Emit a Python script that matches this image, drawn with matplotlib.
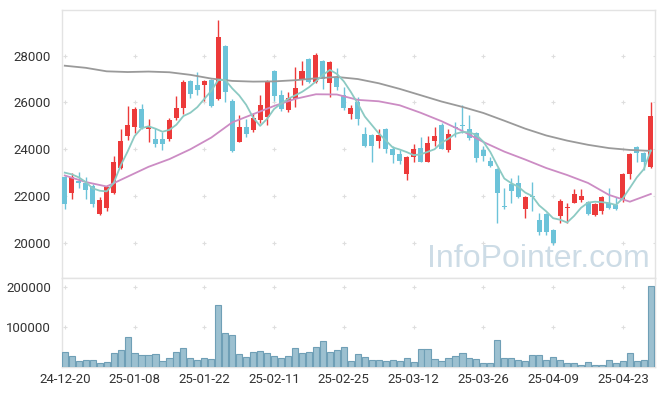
import matplotlib
matplotlib.use("Agg")
import matplotlib.pyplot as plt
import numpy as np

# ---------------- data ----------------
opens = [22805, 22147, 22647, 22549, 22446, 21250, 21507, 22147, 23215, 24582,
         24967, 25723, 24881, 24441, 24441, 24454, 25326, 25779, 26919, 26748,
         26761, 26962, 26137, 28414, 26065, 24326, 24954, 24839, 25266, 25394,
         27346, 26321, 25693, 26163, 26962, 27846, 26889, 27774, 26847, 27060,
         26321, 25522, 26009, 24655, 24612, 24369, 24869, 24014, 23788, 22959,
         23685, 24057, 23472, 24356, 25040, 23972, 24967, 25052, 24856, 24698,
         23972, 23514, 23173, 21579, 22519, 22549, 21464, 22006, 20981, 21237,
         20554, 21152, 21481, 21720, 21836, 21737, 21194, 21378, 21720, 21609,
         21836, 22933, 24087, 23856, 23258]
highs = [22850, 22976, 23019, 22805, 22500, 21977, 22476, 23715, 24856, 25864,
         25821, 25924, 25296, 24898, 24753, 25326, 26291, 26962, 26962, 27291,
         26962, 27000, 29512, 28450, 26150, 25480, 25296, 25539, 26308, 26962,
         27380, 26535, 26462, 27504, 27761, 27900, 28128, 27800, 27780, 27462,
         26676, 25881, 26223, 24941, 24650, 24856, 24900, 24155, 23972, 23700,
         24215, 24540, 24570, 24941, 25112, 24856, 25180, 25881, 25467, 24750,
         24142, 23685, 23200, 22361, 22762, 22904, 22000, 22592, 21267, 21280,
         20580, 21865, 21720, 22306, 22306, 21780, 21700, 22000, 22336, 21951,
         22990, 23856, 24120, 23890, 26035]
lows = [21440, 21865, 22361, 21865, 21549, 21195, 21378, 22100, 23150, 24399,
        24685, 24850, 24326, 24087, 23984, 24369, 25250, 25510, 26180, 26321,
        26065, 25820, 26100, 26009, 23900, 24300, 24540, 24740, 25112, 25040,
        26065, 25650, 25595, 25821, 26748, 26850, 26850, 26565, 26249, 26535,
        25680, 25309, 25040, 24112, 23472, 24044, 23831, 23403, 23373, 22690,
        23446, 23450, 23450, 24142, 24001, 23899, 24540, 24685, 24399, 23472,
        23514, 23250, 20840, 21438, 21720, 21930, 21079, 21378, 20340, 20340,
        19913, 20866, 20840, 21700, 21763, 21200, 21150, 21237, 21450, 21400,
        21763, 22720, 23472, 23117, 23200]
closes = [21677, 22805, 22574, 22263, 21677, 21836, 22391, 23446, 24356, 25040,
          25723, 24898, 24967, 24241, 24241, 25240, 25766, 26889, 26377, 26535,
          26919, 25864, 28799, 26462, 23942, 24954, 24655, 25338, 25894, 26919,
          26278, 25710, 26193, 26620, 27346, 26889, 28017, 26992, 27731, 26663,
          25779, 25766, 25309, 24155, 24155, 24612, 24027, 23758, 23502, 23672,
          24001, 23472, 24258, 24570, 24027, 24655, 24924, 24997, 24471, 23642,
          23728, 23301, 22147, 21524, 22233, 21976, 21964, 21964, 20481, 20481,
          20011, 21793, 21537, 22092, 22006, 21237, 21664, 21951, 21481, 21438,
          22946, 23801, 23831, 23472, 25424]
volumes = [37500, 27500, 15000, 17500, 17500, 10000, 12500, 35000, 42500, 75000,
           35000, 30000, 30000, 32500, 15000, 22500, 37500, 47500, 22500, 17500,
           22500, 20000, 155000, 85000, 80000, 32500, 25000, 37500, 40000, 35000,
           27500, 22500, 27500, 47500, 35000, 37500, 50000, 65000, 37500, 42500,
           50000, 15000, 32500, 25000, 17500, 17500, 15000, 17500, 15000, 22500,
           12500, 45000, 45000, 20000, 15000, 22500, 27500, 35000, 22500, 20000,
           10000, 10000, 67500, 22500, 22500, 17500, 15000, 30000, 30000, 17500,
           25000, 17500, 10000, 10000, 5000, 12500, 5000, 5000, 17500, 10000,
           15000, 35000, 15000, 17500, 202500]

ma_short = [23000, 22930, 22800, 22600, 22330, 22230, 22200, 22550, 23300, 23900,
            24560, 24900, 24980, 24880, 24750, 24830, 25050, 25420, 25560, 25800,
            26150, 26500, 26960, 26960, 26600, 26300, 25900, 25350, 25000, 25300,
            25720, 25950, 26150, 26300, 26450, 26650, 26900, 27180, 27390, 27220,
            26900, 26450, 25950, 25400, 25040, 24680, 24380, 24080, 23990, 23880,
            23750, 23780, 23890, 24000, 24280, 24450, 24660, 24740, 24720, 24612,
            24320, 23880, 23300, 22750, 22550, 22400, 22150, 22000, 21600, 21350,
            21054, 20990, 20870, 21150, 21500, 21720, 21760, 21740, 21700, 21620,
            21908, 22350, 22800, 23150, 23950]

ma_mid_idx = [0, 3, 6, 9, 12, 15, 18, 21, 24, 27, 30, 33, 36, 39, 42, 45, 48,
              51, 54, 57, 60, 63, 66, 69, 72, 75, 78, 81, 84]
ma_mid = [22880, 22600, 22410, 22830, 23250, 23580, 24000, 24500, 25150, 25500,
          25850, 26150, 26350, 26340, 26110, 26050, 25880, 25560, 25200, 24780,
          24310, 23900, 23560, 23200, 22900, 22560, 22050, 21760, 22090]

ma_long_idx = [0, 3, 6, 9, 12, 15, 18, 21, 24, 27, 30, 33, 36, 39, 42, 45, 48,
               51, 54, 57, 60, 63, 66, 69, 72, 75, 78, 81, 84]
ma_long = [27570, 27480, 27330, 27300, 27320, 27290, 27180, 27020, 26920, 26890,
           26900, 26950, 27030, 27090, 27000, 26820, 26580, 26310, 26040, 25810,
           25550, 25220, 24880, 24590, 24370, 24190, 24050, 23970, 23930]

date_tick_pos = [0, 10, 20, 30, 40, 50, 60, 70, 80]
date_tick_labels = ["24-12-20", "25-01-08", "25-01-22", "25-02-11", "25-02-25",
                    "25-03-12", "25-03-26", "25-04-09", "25-04-23"]
price_ticks = [20000, 22000, 24000, 26000, 28000]
vol_ticks = [100000, 200000]

# ---------------- style ----------------
plt.rcParams['font.family'] = ['Roboto', 'DejaVu Sans']
UP = "#ec3a3a"
DOWN = "#6cc3d9"
BORDER = "#e3e3e3"
TXT = "#333333"

W, H = 665, 396
fig = plt.figure(figsize=(W / 100, H / 100), dpi=100)
fig.patch.set_facecolor("white")

L, R = 62, 655
ax = fig.add_axes([L / W, (H - 278) / H, (R - L) / W, (278 - 10) / H])
axv = fig.add_axes([L / W, (H - 367) / H, (R - L) / W, (367 - 278) / H], sharex=ax)

n = len(closes)
x = np.arange(n)
o = np.array(opens); c = np.array(closes)
hi = np.array(highs); lo = np.array(lows)
up = c >= o
cols = np.where(up, UP, DOWN)

# wicks
ax.vlines(x, lo, hi, colors=cols, linewidth=1.0, zorder=3)
# bodies
bottom = np.minimum(o, c)
height = np.maximum(np.abs(c - o), 45)
ax.bar(x, height, bottom=bottom, width=0.72, color=cols, linewidth=0, zorder=4)

# moving averages
ax.plot(ma_long_idx, ma_long, color="#9a9a9a", linewidth=1.3, zorder=5)
ax.plot(ma_mid_idx, ma_mid, color="#cc8cc4", linewidth=1.3, zorder=5)
ax.plot(x, ma_short, color="#8ccac3", linewidth=1.3, zorder=5)

ax.set_xlim(-0.4, 84.6)
ax.set_ylim(18500, 29950)
ax.set_yticks(price_ticks)
ax.set_yticklabels([str(t) for t in price_ticks])

# volume
axv.bar(x, volumes, width=0.88, color="#9cc0d0", edgecolor="#6f9fb6", linewidth=0.8, zorder=3)
axv.set_ylim(0, 223000)
axv.set_yticks(vol_ticks)
axv.set_yticklabels([str(t) for t in vol_ticks])
axv.set_xticks(date_tick_pos)
axv.set_xticklabels(date_tick_labels)

for a in (ax, axv):
    for s in a.spines.values():
        s.set_color(BORDER)
        s.set_linewidth(1.0)
    a.tick_params(axis="both", length=0, colors=TXT, labelsize=9.5)
    a.set_facecolor("white")
ax.tick_params(axis="x", labelbottom=False)
ax.tick_params(axis="y", pad=8)
axv.tick_params(axis="y", pad=8)
axv.tick_params(axis="x", pad=4)

# grid crosses
gx = list(date_tick_pos) + [84.55]
for yy in price_ticks:
    ax.scatter(gx, [yy] * len(gx), marker="+", s=11, color="#dedede", linewidths=0.8, zorder=1)
for yy in vol_ticks:
    axv.scatter(gx, [yy] * len(gx), marker="+", s=11, color="#dedede", linewidths=0.8, zorder=1)

# watermark (behind the candles)
ax.text(538.5 / W, (H - 266.7) / H, "InfoPointer.com", transform=fig.transFigure,
        fontsize=23, color="#cddce6", ha="center", va="baseline", zorder=2,
        family=["Liberation Sans", "DejaVu Sans"])

fig.savefig("out.png", dpi=100, facecolor="white")
